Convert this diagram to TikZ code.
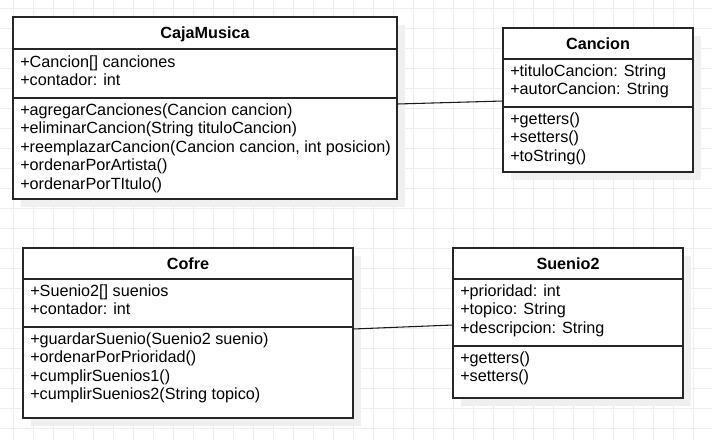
\documentclass[tikz,border=0pt]{standalone}
\usepackage{fontspec}
\setmainfont{Liberation Sans}
\usetikzlibrary{calc,shadows}
\tikzset{
  classbox/.style={draw=black!85, line width=1.1pt, fill=white, inner sep=0pt, outer sep=0pt, anchor=north west,
    general shadow={shadow xshift=6pt, shadow yshift=-6pt, fill=black!6}},
  sepline/.style={draw=black!85, line width=1.1pt},
  conn/.style={draw=black!90, line width=0.8pt},
  txt/.style={anchor=base west, inner sep=0pt, font=\fontsize{12.15}{14}\selectfont},
  ttl/.style={anchor=base, inner sep=0pt, font=\fontsize{12.15}{14}\selectfont\bfseries},
  gridline/.style={draw=black!7, line width=0.75pt}
}
\begin{document}
\begin{tikzpicture}[x=0.75pt,y=-0.75pt]
\useasboundingbox (0,0) rectangle (712,440);
\fill[white] (0,0) rectangle (712,440);
\foreach \i in {0,...,34} { \draw[gridline] (13+20*\i,0) -- (13+20*\i,440); }
\foreach \j in {0,...,21} { \draw[gridline] (0,8+20*\j) -- (712,8+20*\j); }

% CajaMusica
\node[classbox, minimum width=288pt, minimum height=136.5pt] (caja) at (13,17) {};
\draw[sepline] ($(caja.north west)+(0,32)$) -- ($(caja.north east)+(0,32)$);
\draw[sepline] ($(caja.north west)+(0,81)$) -- ($(caja.north east)+(0,81)$);
\node[ttl] (cajaT) at (205,38.5) {CajaMusica};
\node[txt] (caja1) at (20,67) {+Cancion[] canciones};
\node[txt] (caja2) at (20,85.5) {+contador: int};
\node[txt] (caja3) at (20,115) {+agregarCanciones(Cancion cancion)};
\node[txt] (caja4) at (20,133.5) {+eliminarCancion(String tituloCancion)};
\node[txt] (caja5) at (20,152) {+reemplazarCancion(Cancion cancion, int posicion)};
\node[txt] (caja6) at (20,170.5) {+ordenarPorArtista()};
\node[txt] (caja7) at (20,189) {+ordenarPorTItulo()};

% Cancion
\node[classbox, minimum width=142.5pt, minimum height=108pt] (can) at (503,28) {};
\draw[sepline] ($(can.north west)+(0,31)$) -- ($(can.north east)+(0,31)$);
\draw[sepline] ($(can.north west)+(0,79)$) -- ($(can.north east)+(0,79)$);
\node[ttl] (canT) at (598,49) {Cancion};
\node[txt] (can1) at (510,76) {+tituloCancion: String};
\node[txt] (can2) at (510,94.5) {+autorCancion: String};
\node[txt] (can3) at (510,124) {+getters()};
\node[txt] (can4) at (510,142.5) {+setters()};
\node[txt] (can5) at (510,161) {+toString()};

% Cofre
\node[classbox, minimum width=247.5pt, minimum height=127.5pt] (cofre) at (23,248) {};
\draw[sepline] ($(cofre.north west)+(0,31)$) -- ($(cofre.north east)+(0,31)$);
\draw[sepline] ($(cofre.north west)+(0,79)$) -- ($(cofre.north east)+(0,79)$);
\node[ttl] (cofreT) at (188,269) {Cofre};
\node[txt] (cofre1) at (30,296) {+Suenio2[] suenios};
\node[txt] (cofre2) at (30,314.5) {+contador: int};
\node[txt] (cofre3) at (30,344) {+guardarSuenio(Suenio2 suenio)};
\node[txt] (cofre4) at (30,362.5) {+ordenarPorPrioridad()};
\node[txt] (cofre5) at (30,381) {+cumplirSuenios1()};
\node[txt] (cofre6) at (30,399.5) {+cumplirSuenios2(String topico)};

% Suenio2
\node[classbox, minimum width=172.5pt, minimum height=112.5pt] (sue) at (453,248) {};
\draw[sepline] ($(sue.north west)+(0,31)$) -- ($(sue.north east)+(0,31)$);
\draw[sepline] ($(sue.north west)+(0,98)$) -- ($(sue.north east)+(0,98)$);
\node[ttl] (sueT) at (568,269) {Suenio2};
\node[txt] (sue1) at (460,296) {+prioridad: int};
\node[txt] (sue2) at (460,314.5) {+topico: String};
\node[txt] (sue3) at (460,333) {+descripcion: String};
\node[txt] (sue4) at (460,363) {+getters()};
\node[txt] (sue5) at (460,381.5) {+setters()};

% connectors
\draw[conn] ($(caja.north east)+(0,87)$) -- ($(can.north west)+(0,73)$);
\draw[conn] ($(cofre.north east)+(0,81)$) -- ($(sue.north west)+(0,77)$);
\end{tikzpicture}
\end{document}
